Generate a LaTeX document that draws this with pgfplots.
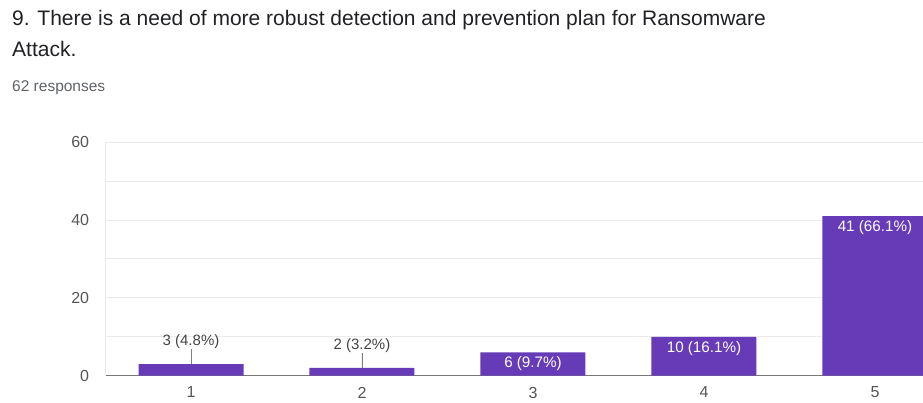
\documentclass[border=0pt]{standalone}
\usepackage{pgfplots}
\pgfplotsset{compat=1.18}
\usepackage{pgfplotstable}
\usepackage{fontspec}
\setmainfont{Liberation Sans}
\definecolor{barc}{HTML}{673AB7}
\definecolor{gridc}{HTML}{EBEBEB}
\definecolor{titlec}{HTML}{202124}
\definecolor{subc}{HTML}{5F6368}
\definecolor{tickc}{HTML}{555555}
\definecolor{basec}{HTML}{777777}
\definecolor{labc}{HTML}{444444}

\pgfplotstableread{
x y e lab
1 3 3.86 {3 (4.8\%)}
2 2 3.86 {2 (3.2\%)}
}\outside
\pgfplotstableread{
x y lab
3 6 {6 (9.7\%)}
4 10 {10 (16.1\%)}
5 41 {41 (66.1\%)}
}\inside

\begin{document}
\begin{tikzpicture}
\useasboundingbox (0,0) rectangle (923pt,403pt);
\node[anchor=base west, inner sep=0pt, text=titlec, font=\fontsize{21}{24}\selectfont] at (12pt,377pt) {9. There is a need of more robust detection and prevention plan for Ransomware};
\node[anchor=base west, inner sep=0pt, text=titlec, font=\fontsize{21}{24}\selectfont] at (12pt,346pt) {Attack.};
\node[anchor=base west, inner sep=0pt, text=subc, font=\fontsize{15.5}{17}\selectfont] at (12pt,311pt) {62 responses};
\begin{axis}[
  at={(105pt,27.3pt)}, anchor=south west,
  scale only axis, width=818pt, height=233.4pt,
  xmin=0.497, xmax=5.281, ymin=0, ymax=60,
  ytick={0,20,40,60}, minor ytick={10,30,50},
  xtick={1,2,3,4,5},
  ymajorgrids, yminorgrids,
  major grid style={gridc, line width=1pt},
  minor grid style={gridc, line width=1pt},
  major tick length=0pt, minor tick length=0pt,
  axis lines*=left,
  x axis line style={-, basec, line width=1.2pt},
  y axis line style={-, gridc, line width=1pt},
  /pgf/number format/assume math mode=true,
  ticklabel style={font=\fontsize{16}{18}\selectfont, text=tickc},
  yticklabel style={inner sep=0pt, xshift=-15.7pt},
  xticklabel style={inner sep=0pt, yshift=-11pt},
]
\addplot[ybar, bar width=105pt, bar shift=0pt, fill=barc, draw=none,
  nodes near coords, point meta=explicit symbolic,
  every node near coord/.style={anchor=south, inner sep=0pt, yshift=15pt, text=labc, font=\fontsize{15}{17}\selectfont},
  error bars/.cd, y dir=plus, y explicit, error mark=none,
  error bar style={color=gray, line width=0.8pt}]
  table[x=x, y=y, y error=e, meta=lab] {\outside};
\addplot[ybar, bar width=105pt, bar shift=0pt, fill=barc, draw=none,
  nodes near coords, point meta=explicit symbolic,
  every node near coord/.style={anchor=north, inner sep=0pt, yshift=-4pt, text=white, font=\fontsize{15.2}{17}\selectfont}]
  table[x=x, y=y, meta=lab] {\inside};
\end{axis}
\end{tikzpicture}
\end{document}
